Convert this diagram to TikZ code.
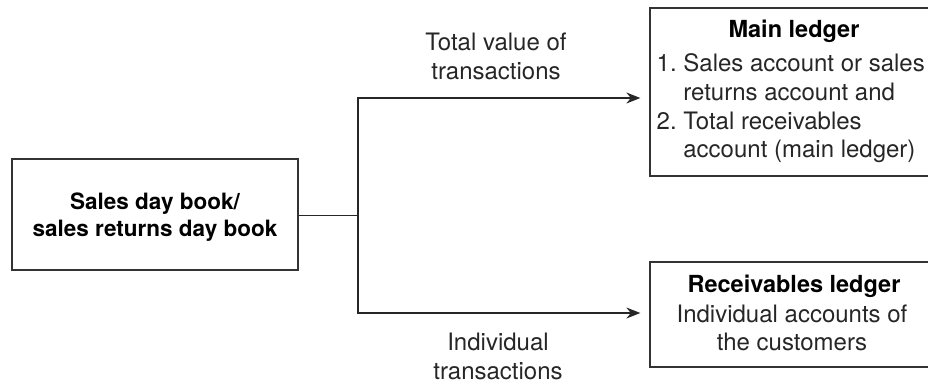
\documentclass[tikz,border=0pt]{standalone}
\usepackage{fontspec}
\setmainfont{TeX Gyre Heros}
\usetikzlibrary{arrows.meta}
\begin{document}
\begin{tikzpicture}[x=1pt,y=-1pt,
  box/.style={draw=black!80, line width=1.3pt, inner sep=0pt},
  reg/.style={font=\fontsize{24}{29}\selectfont, text=black!85, inner sep=0pt},
  bld/.style={font=\fontsize{23.5}{27}\selectfont\bfseries, text=black, inner sep=0pt},
  conn/.style={draw=black!85, line width=1.3pt},
  arr/.style={conn, -{Stealth[length=14pt,width=11pt]}, shorten >=9pt}]
\clip (0,0) rectangle (928,383);
\useasboundingbox (0,0) rectangle (928,383);

% boxes
\node[box, minimum width=286pt, minimum height=111pt] (src) at (155,214.5) {};
\node[box, minimum width=289pt, minimum height=168pt] (main) at (794.5,92) {};
\node[box, minimum width=289pt, minimum height=105pt] (recv) at (794.5,314.5) {};

% box texts
\node[bld, align=center, font=\fontsize{22.5}{27}\selectfont\bfseries] (srcT) at (155,217) {Sales day book/\\sales returns day book};
\node[bld] (mainT) at (794,31) {Main ledger};
\node[reg, align=left, anchor=west, font=\fontsize{24}{28.7}\selectfont] (mainL) at (656.5,108.5)
  {1.~Sales account or sales\\\phantom{1.~}returns account and\\2.~Total receivables\\\phantom{2.~}account (main ledger)};
\node[bld] (recvT) at (794,286) {Receivables ledger};
\node[reg, align=center, font=\fontsize{24}{28.5}\selectfont] (recvL) at (792,328)
  {Individual accounts of\\the customers};

% connectors
\coordinate (j) at (358,215.7);
\draw[conn] (src.east |- j) -- (j);
\draw[arr] (j) |- ([yshift=-6pt]main.west);
\draw[arr] (j) |- ([yshift=1.5pt]recv.west);

% labels
\node[reg, align=center] (lt) at (496,56) {Total value of\\transactions};
\node[reg, align=center] (lb) at (498,356) {Individual\\transactions};
\end{tikzpicture}
\end{document}
